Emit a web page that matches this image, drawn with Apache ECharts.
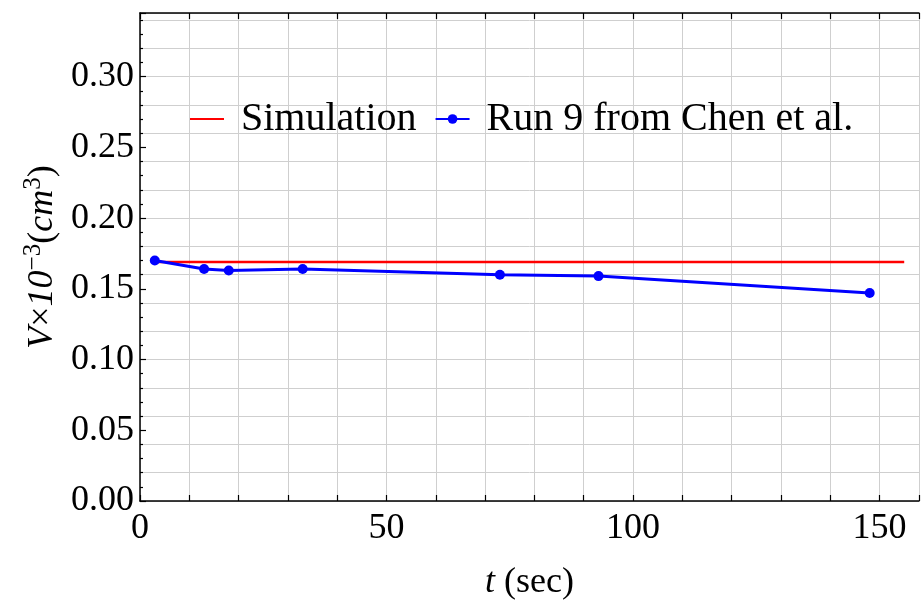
<!DOCTYPE html>
<html><head><meta charset="utf-8">
<script src="https://cdn.jsdelivr.net/npm/echarts@6/dist/echarts.min.js"></script>
<style>html,body{margin:0;padding:0;background:#fff}#c{width:922px;height:606px}</style>
</head><body><div id="c"></div>
<script>
const runTimes = [3, 13, 18, 33, 73, 93, 148];
const runVolumes = [0.170, 0.164, 0.163, 0.164, 0.160, 0.159, 0.147];
const simTimes = [3, 155];
const simVolumes = [0.169, 0.169];
const seriesNames = ['Simulation', 'Run 9 from Chen et al.'];

const FONT = 'Liberation Serif';
const chart = echarts.init(document.getElementById('c'));
const axisLineStyle = {color: '#000', width: 1.5};
const gridLine = {show: true, lineStyle: {color: '#cfcfcf', width: 1}};
chart.setOption({
  animation: false,
  grid: {left: 140, top: 13, right: 0, bottom: 104},
  legend: {
    left: 184, top: 94,
    itemWidth: 34, itemHeight: 12, itemGap: 18,
    textStyle: {fontFamily: FONT, fontSize: 40, color: '#000', padding: [0, 0, 0, 12]},
    data: [{name: seriesNames[0], itemStyle: {opacity: 0}}, seriesNames[1]]
  },
  xAxis: [{
    type: 'value', min: 0, max: 158, interval: 50,
    axisLine: {show: true, lineStyle: axisLineStyle},
    axisTick: {show: true, inside: true, length: 6, lineStyle: {color: '#000', width: 1.2}},
    minorTick: {show: true, splitNumber: 5, length: 6, lineStyle: {color: '#000', width: 1.2}},
    axisLabel: {fontFamily: FONT, fontSize: 36, color: '#000', margin: 10,
      formatter: v => (v % 50 === 0 ? String(v) : '')},
    splitLine: gridLine,
    minorSplitLine: gridLine,
    name: '{i|t} (sec)', nameLocation: 'middle', nameGap: 64,
    nameTextStyle: {fontFamily: FONT, fontSize: 36, color: '#000',
      rich: {i: {fontFamily: FONT, fontSize: 36, fontStyle: 'italic'}}}
  }, {
    type: 'value', position: 'top', min: 0, max: 158, interval: 50,
    axisLine: {show: true, onZero: false, lineStyle: axisLineStyle},
    axisTick: {show: true, inside: true, length: 6, lineStyle: {color: '#000', width: 1.2}},
    minorTick: {show: true, splitNumber: 5, length: 6, lineStyle: {color: '#000', width: 1.2}},
    axisLabel: {show: false}, splitLine: {show: false}
  }],
  yAxis: [{
    type: 'value', min: 0, max: 0.345, interval: 0.05,
    axisLine: {show: true, lineStyle: axisLineStyle},
    axisTick: {show: true, inside: true, length: 6, lineStyle: {color: '#000', width: 1.2}},
    minorTick: {show: true, splitNumber: 5, length: 3, lineStyle: {color: '#000', width: 1.2}},
    axisLabel: {fontFamily: FONT, fontSize: 36, color: '#000', margin: 6,
      formatter: v => (Math.abs(v / 0.05 - Math.round(v / 0.05)) < 1e-6 ? v.toFixed(2) : '')},
    splitLine: {show: false},
    name: '{i|V}×{i|10}{sup|−3}({i|cm}{sup|3})', nameLocation: 'middle', nameGap: 76,
    nameTextStyle: {fontFamily: FONT, fontSize: 36, color: '#000',
      rich: {
        i: {fontFamily: FONT, fontSize: 36, fontStyle: 'italic'},
        sup: {fontFamily: FONT, fontSize: 25, padding: [0, 0, 18, 0]}
      }}
  }, {
    type: 'value', min: 0, max: 0.345, interval: 0.02, position: 'left',
    axisLine: {show: false}, axisTick: {show: false}, axisLabel: {show: false},
    splitLine: gridLine
  }],
  series: [{
    name: seriesNames[0], type: 'line', xAxisIndex: 0, yAxisIndex: 0,
    data: simTimes.map((t, i) => [t, simVolumes[i]]),
    symbol: 'none', lineStyle: {color: '#ff0000', width: 2.5}, itemStyle: {color: '#ff0000'}
  }, {
    name: seriesNames[1], type: 'line', xAxisIndex: 0, yAxisIndex: 0,
    data: runTimes.map((t, i) => [t, runVolumes[i]]),
    symbol: 'circle', symbolSize: 10,
    lineStyle: {color: '#0000ff', width: 3}, itemStyle: {color: '#0000ff'}
  }]
});
</script></body></html>
